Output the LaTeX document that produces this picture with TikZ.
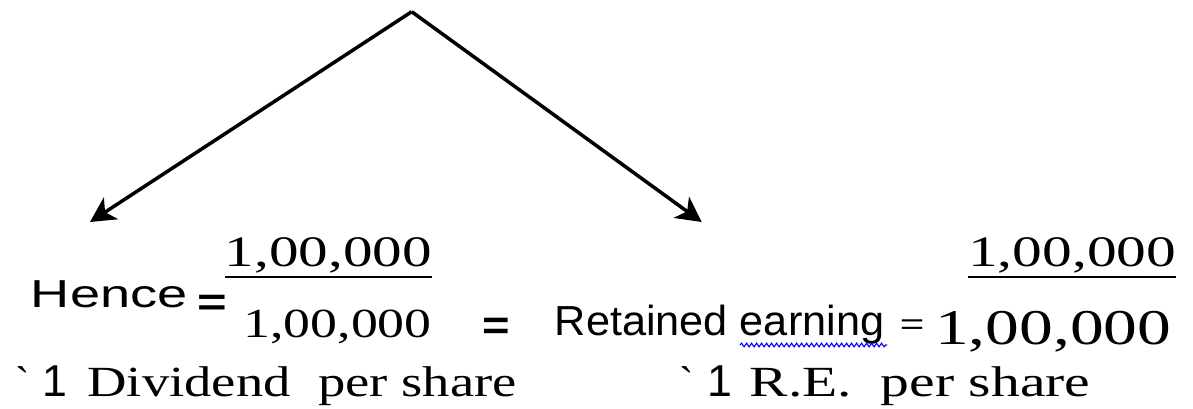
\documentclass[tikz,border=0pt]{standalone}
\usepackage{fontspec}
\usepackage{graphicx}
\setmainfont{Liberation Serif}
\newfontfamily\arialfont{Liberation Sans}
\usetikzlibrary{arrows.meta,decorations.pathmorphing}
\newcommand{\stretchx}[2]{\scalebox{#1}[1]{#2}}

\begin{document}
\begin{tikzpicture}[
  x=1pt, y=-1pt,
  arrow/.style={-{Stealth[length=25pt, width=26pt, inset=7pt]}, line width=3.5pt},
  amount/.style={font=\fontsize{43.5}{50}\selectfont, inner sep=0pt, anchor=base east},
  sanslabel/.style={font=\arialfont\fontsize{39}{45}\selectfont, inner sep=0pt, anchor=base west},
  eqsign/.style={inner sep=0pt, anchor=north},
  caption/.style={font=\fontsize{43}{50}\selectfont, inner sep=0pt, anchor=base west},
  fracbar/.style={line width=2.2pt},
  spellwave/.style={draw=blue, line width=1.1pt, decorate, decoration={snake, amplitude=1.8pt, segment length=5pt}}
]
\fill[white] (0,0) rectangle (1193,408);
\useasboundingbox (0,0) rectangle (1193,408);
\coordinate (apex) at (411.7,11.7);
\coordinate (leftend) at (90,222);
\coordinate (rightend) at (701.7,222);
\draw[arrow] (apex) -- (leftend);
\draw[arrow] (apex) -- (rightend);
\node[sanslabel] (hence) at (30.7,307.3) {\stretchx{1.39}{Hence}};
\node[eqsign, font=\arialfont\bfseries\fontsize{39}{45}\selectfont] (eqA) at (212.5,295) {\stretchx{1.3}{=}};
\node[amount] (numL) at (432.1,266.7) {\stretchx{1.36}{1,00,000}};
\node[amount, font=\fontsize{41.4}{48}\selectfont] (denL) at (432,337) {\stretchx{1.3}{1,00,000}};
\draw[fracbar] ([yshift=-10.6pt]numL.base west) -- ([yshift=-10.6pt]numL.base east);
\node[eqsign, font=\arialfont\bfseries\fontsize{41}{48}\selectfont] (eqB) at (496.5,318) {\stretchx{1.15}{=}};
\node[sanslabel, font=\arialfont\fontsize{42}{48}\selectfont] (retained) at (554.6,335) {\stretchx{1.03}{Retained earning}};
\coordinate (waveA) at (740,345);
\coordinate (waveB) at (887,345);
\draw[spellwave] (waveA) -- (waveB);
\node[eqsign, font=\arialfont\fontsize{30}{36}\selectfont] (eqC) at (912,320) {\stretchx{1.4}{=}};
\node[amount, font=\fontsize{50}{56}\selectfont] (bigR) at (1171.6,344) {\stretchx{1.35}{1,00,000}};
\node[amount] (numR) at (1176.4,266.7) {\stretchx{1.366}{1,00,000}};
\draw[fracbar] ([yshift=-10.6pt]numR.base west) -- ([yshift=-10.6pt]numR.base east);
\node[caption] (rupL) at (15,396.7) {\textasciigrave};
\node[caption, font=\arialfont\fontsize{44.7}{50}\selectfont] (oneL) at (42,396.7) {1};
\node[caption] (dps) at (87.3,396.7) {\stretchx{1.27}{Dividend\ \ per share}};
\node[caption] (rupR) at (679.4,396.7) {\textasciigrave};
\node[caption, font=\arialfont\fontsize{44.7}{50}\selectfont] (oneR) at (707,396.7) {1};
\node[caption] (reps) at (749.4,396.7) {\stretchx{1.34}{R.E.\ \ per share}};
\end{tikzpicture}
\end{document}
